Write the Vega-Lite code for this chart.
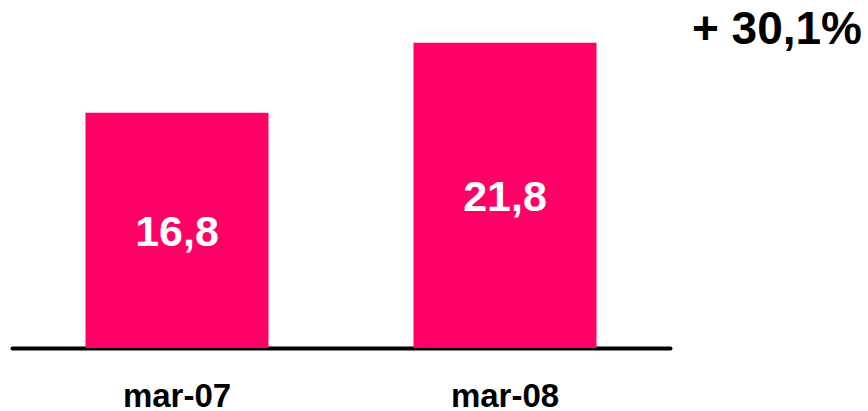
{
  "$schema": "https://vega.github.io/schema/vega-lite/v6.json",
  "autosize": {"type": "none"},
  "padding": {"left": 12, "top": 0, "right": 198, "bottom": 63},
  "width": 658,
  "height": 348,
  "background": "white",
  "config": {"view": {"stroke": null}, "font": "Liberation Sans"},
  "title": {
    "text": "+ 30,1%",
    "anchor": "end",
    "orient": "top",
    "dx": 192,
    "offset": -90,
    "baseline": "alphabetic",
    "fontSize": 46,
    "fontWeight": "bold",
    "font": "Liberation Sans",
    "color": "black"
  },
  "data": {"values": [
    {"period": "mar-07", "value": 16.8, "label": "16,8"},
    {"period": "mar-08", "value": 21.8, "label": "21,8"}
  ]},
  "encoding": {
    "x": {
      "field": "period", "type": "nominal", "sort": null,
      "scale": {"paddingInner": 0.442, "paddingOuter": 0.224},
      "axis": {
        "title": null, "labelAngle": 0, "ticks": false,
        "domainColor": "black", "domainWidth": 4, "domainCap": "round",
        "labelFontSize": 33, "labelFontWeight": "bold", "labelColor": "black",
        "labelFont": "Liberation Sans",
        "labelBaseline": "alphabetic", "labelPadding": 58
      }
    }
  },
  "layer": [
    {
      "mark": {"type": "bar", "color": "#FF0066"},
      "encoding": {
        "y": {"field": "value", "type": "quantitative",
              "scale": {"domain": [0, 24.857], "nice": false, "zero": true},
              "axis": null}
      }
    },
    {
      "mark": {"type": "text", "color": "white", "fontSize": 43, "fontWeight": "bold",
               "font": "Liberation Sans", "baseline": "middle", "dy": 3},
      "encoding": {
        "y": {"field": "value", "type": "quantitative",
              "scale": {"domain": [0, 49.714], "nice": false, "zero": true},
              "axis": null},
        "text": {"field": "label"}
      }
    }
  ],
  "resolve": {"scale": {"y": "independent"}}
}
